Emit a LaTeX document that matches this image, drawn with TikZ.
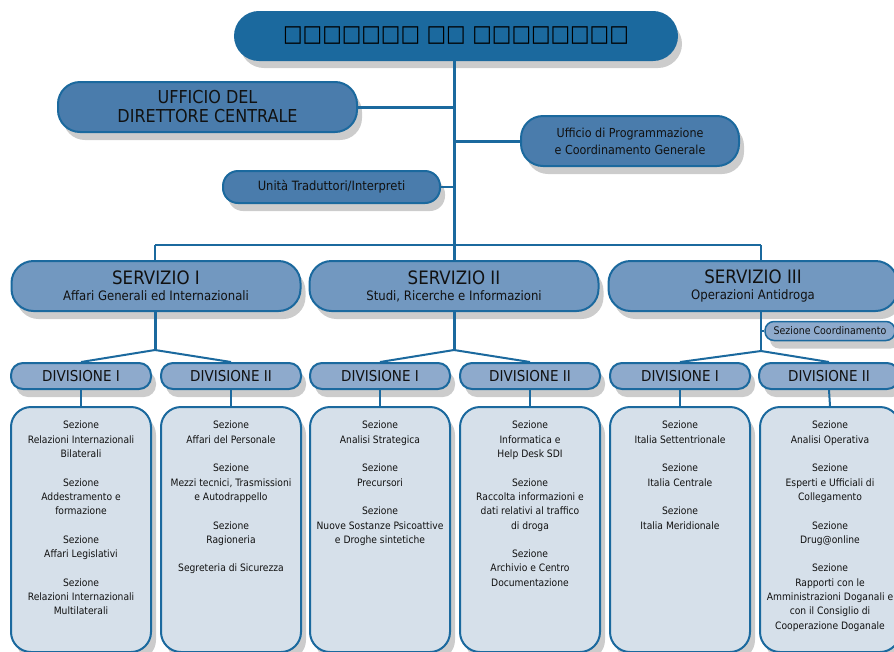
\documentclass[tikz,border=0pt]{standalone}
\usepackage{fontspec}
\setmainfont{DejaVu Sans}[FakeStretch=0.9]
\usetikzlibrary{shadows}
\definecolor{dk}{HTML}{1B699E}
\definecolor{uff}{HTML}{4A7CAC}
\definecolor{srv}{HTML}{7298C0}
\definecolor{div}{HTML}{8EAACC}
\definecolor{sec}{HTML}{D6E0EA}
\definecolor{txt}{HTML}{111111}
\begin{document}
\begin{tikzpicture}[x=1pt,y=-1pt,
  shad/.style={drop shadow={shadow xshift=5pt,shadow yshift=-8pt,opacity=.2,fill=black}},
  bx/.style={draw=dk,line width=2pt,align=center,inner sep=0pt,text=txt,shad},
  topbox/.style={bx,fill=dk,rounded corners=24pt,minimum width=442pt,minimum height=48pt},
  uffbox/.style={bx,fill=uff,rounded corners=22pt,minimum height=50pt},
  smallbox/.style={bx,fill=uff,rounded corners=15pt,minimum height=32pt},
  srvbox/.style={bx,fill=srv,rounded corners=22pt,minimum width=289pt,minimum height=50pt},
  divbox/.style={bx,fill=div,rounded corners=12pt,minimum width=140pt,minimum height=26pt,font=\fontsize{15}{16}\selectfont},
  coordbox/.style={bx,line width=1.5pt,fill=div,rounded corners=9pt,minimum width=130pt,minimum height=19pt,font=\fontsize{10.5}{12}\selectfont},
  secbox/.style={bx,fill=sec,rounded corners=20pt,minimum width=140pt,minimum height=245pt},
  sectext/.style={anchor=north,align=center,inner sep=0pt,text=txt,font=\fontsize{10.2}{14.3}\selectfont},
  ln/.style={draw=dk,line width=3pt},
  lnt/.style={draw=dk,line width=2pt}]
\useasboundingbox (0,0) rectangle (894,651);
\clip (0,0) rectangle (894,651);
\fill[white] (0,0) rectangle (894,651);

% coordinates of the connector joints
\coordinate (bar) at (454,245);
\coordinate (barL) at (155,245);
\coordinate (barR) at (761,245);
\coordinate (j1) at (155,350);
\coordinate (j2) at (454,350);
\coordinate (j3) at (761,351);

\node[topbox] (top) at (456,36) {};
\node[uffbox,minimum width=299pt,font=\fontsize{17.8}{19}\selectfont] (ufd) at (207.5,107) {UFFICIO DEL\\DIRETTORE CENTRALE};
\node[uffbox,minimum width=218pt,font=\fontsize{12.4}{17}\selectfont] (upc) at (630,141) {Ufficio di Programmazione\\e Coordinamento Generale};
\node[smallbox,minimum width=217pt,font=\fontsize{12.8}{14}\selectfont] (utr) at (331.5,187) {Unità Traduttori/Interpreti};

\draw[ln] (top.south -| bar) -- (bar);
\draw[ln] (ufd.east) -- (ufd.east -| bar);
\draw[ln] (upc.west) -- (upc.west -| bar);
\draw[lnt] (utr.east) -- (utr.east -| bar);
\draw[lnt] (barL) -- (barR);

\node[font=\fontsize{23}{24}\selectfont,text=black,inner sep=0pt] (toptext) at (top) {□□□□□□□ □□ □□□□□□□□};

\node[srvbox] (s1) at (156,286) {\fontsize{18.5}{20}\selectfont SERVIZIO I\\[4pt]\fontsize{13}{15}\selectfont Affari Generali ed Internazionali};
\node[srvbox] (s2) at (454,286) {\fontsize{18.5}{20}\selectfont SERVIZIO II\\[4pt]\fontsize{13}{15}\selectfont Studi, Ricerche e Informazioni};
\node[srvbox] (s3) at (753,286) {\fontsize{18.5}{20}\selectfont SERVIZIO III\\[4pt]\fontsize{13}{15}\selectfont Operazioni Antidroga};

\draw[lnt] (barL) -- (s1.north -| barL);
\draw[ln] (bar) -- (s2.north);
\draw[lnt] (barR) -- (s3.north -| barR);

\node[coordbox] (sc) at (830,331) {Sezione Coordinamento};

\node[divbox] (d1) at (81,376) {DIVISIONE I};
\node[divbox] (d2) at (231,376) {DIVISIONE II};
\node[divbox] (d3) at (380,376) {DIVISIONE I};
\node[divbox] (d4) at (530,376) {DIVISIONE II};
\node[divbox] (d5) at (680,376) {DIVISIONE I};
\node[divbox] (d6) at (829,376) {DIVISIONE II};

\draw[ln] (s1.south -| j1) -- (j1);
\draw[ln] (s2.south) -- (j2);
\draw[lnt] (s3.south -| j3) -- (j3);
\draw[lnt] (sc.west) -- (sc.west -| j3);
\draw[lnt] (j1) -- (d1.north);
\draw[lnt] (j1) -- (d2.north);
\draw[lnt] (j2) -- (d3.north);
\draw[lnt] (j2) -- (d4.north);
\draw[lnt] (j3) -- (d5.north);
\draw[lnt] (j3) -- (d6.north);

\node[secbox] (b1) at (81,529.5) {};
\node[secbox] (b2) at (231,529.5) {};
\node[secbox] (b3) at (380,529.5) {};
\node[secbox] (b4) at (530,529.5) {};
\node[secbox] (b5) at (680,529.5) {};
\node[secbox] (b6) at (830,529.5) {};

\draw[lnt] (d1.south) -- (b1.north);
\draw[lnt] (d2.south) -- (b2.north);
\draw[lnt] (d3.south) -- (b3.north);
\draw[lnt] (d4.south) -- (b4.north);
\draw[lnt] (d5.south) -- (b5.north);
\draw[lnt] (d6.south) -- (b6.north);

\node[sectext] (t1) at ([yshift=-15pt]b1.north) {Sezione\\Relazioni Internazionali\\Bilaterali\\[14.3pt]Sezione\\Addestramento e\\formazione\\[14.3pt]Sezione\\Affari Legislativi\\[14.3pt]Sezione\\Relazioni Internazionali\\Multilaterali};
\node[sectext] (t2) at ([yshift=-15pt]b2.north) {Sezione\\Affari del Personale\\[14.3pt]Sezione\\Mezzi tecnici, Trasmissioni\\e Autodrappello\\[14.3pt]Sezione\\Ragioneria\\[14.3pt]Segreteria di Sicurezza};
\node[sectext] (t3) at ([yshift=-15pt]b3.north) {Sezione\\Analisi Strategica\\[14.3pt]Sezione\\Precursori\\[14.3pt]Sezione\\Nuove Sostanze Psicoattive\\e Droghe sintetiche};
\node[sectext] (t4) at ([yshift=-15pt]b4.north) {Sezione\\Informatica e\\Help Desk SDI\\[14.3pt]Sezione\\Raccolta informazioni e\\dati relativi al traffico\\di droga\\[14.3pt]Sezione\\Archivio e Centro\\Documentazione};
\node[sectext] (t5) at ([yshift=-15pt]b5.north) {Sezione\\Italia Settentrionale\\[14.3pt]Sezione\\Italia Centrale\\[14.3pt]Sezione\\Italia Meridionale};
\node[sectext] (t6) at ([yshift=-15pt]b6.north) {Sezione\\Analisi Operativa\\[14.3pt]Sezione\\Esperti e Ufficiali di\\Collegamento\\[14.3pt]Sezione\\Drug@online\\[14.3pt]Sezione\\Rapporti con le\\Amministrazioni Doganali e\\con il Consiglio di\\Cooperazione Doganale};
\end{tikzpicture}
\end{document}
